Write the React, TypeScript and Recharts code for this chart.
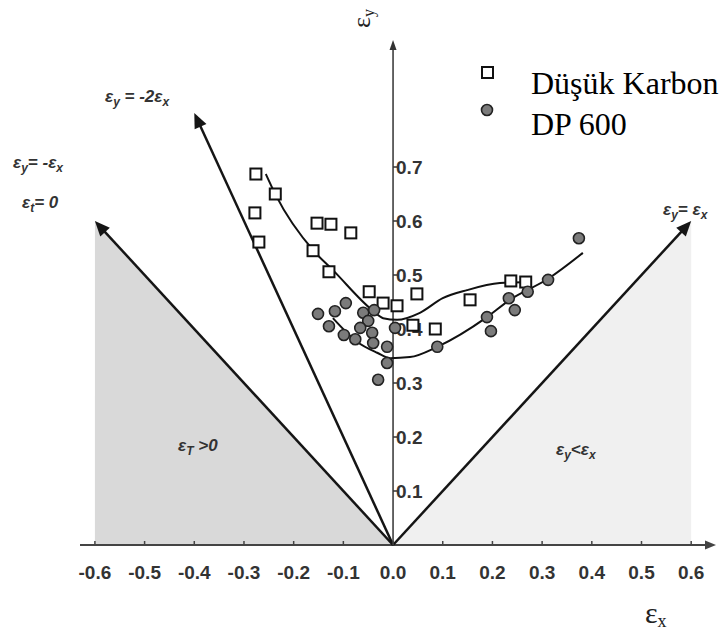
import React from "react";
import {
  Area,
  ComposedChart,
  Line,
  ReferenceLine,
  Scatter,
  XAxis,
  YAxis,
} from "recharts";

const xTicks = [-0.6, -0.5, -0.4, -0.3, -0.2, -0.1, 0, 0.1, 0.2, 0.3, 0.4, 0.5, 0.6];
const yTicks = [0.1, 0.2, 0.3, 0.4, 0.5, 0.6, 0.7];

// Düşük Karbon (open squares)
const lowCarbon = [
  { x: -0.276, y: 0.687 },
  { x: -0.237, y: 0.65 },
  { x: -0.278, y: 0.615 },
  { x: -0.27, y: 0.561 },
  { x: -0.153, y: 0.596 },
  { x: -0.125, y: 0.594 },
  { x: -0.085, y: 0.578 },
  { x: -0.161, y: 0.545 },
  { x: -0.129, y: 0.506 },
  { x: -0.048, y: 0.469 },
  { x: -0.02, y: 0.448 },
  { x: 0.008, y: 0.443 },
  { x: 0.048, y: 0.465 },
  { x: 0.04, y: 0.407 },
  { x: 0.085, y: 0.4 },
  { x: 0.155, y: 0.454 },
  { x: 0.237, y: 0.489 },
  { x: 0.267, y: 0.487 },
];

// DP 600 (grey circles)
const dp600 = [
  { x: -0.151, y: 0.428 },
  { x: -0.129, y: 0.405 },
  { x: -0.117, y: 0.433 },
  { x: -0.095, y: 0.448 },
  { x: -0.099, y: 0.389 },
  { x: -0.076, y: 0.381 },
  { x: -0.06, y: 0.43 },
  { x: -0.05, y: 0.415 },
  { x: -0.066, y: 0.402 },
  { x: -0.042, y: 0.393 },
  { x: -0.04, y: 0.374 },
  { x: -0.038, y: 0.435 },
  { x: -0.012, y: 0.367 },
  { x: -0.012, y: 0.337 },
  { x: -0.03, y: 0.306 },
  { x: 0.004, y: 0.402 },
  { x: 0.089, y: 0.367 },
  { x: 0.189, y: 0.422 },
  { x: 0.197, y: 0.396 },
  { x: 0.233, y: 0.457 },
  { x: 0.245, y: 0.435 },
  { x: 0.271, y: 0.469 },
  { x: 0.312, y: 0.491 },
  { x: 0.374, y: 0.568 },
];

// fitted curves
const lowCarbonFit = [
  { x: -0.256, y: 0.687 },
  { x: -0.236, y: 0.648 },
  { x: -0.159, y: 0.544 },
  { x: -0.121, y: 0.509 },
  { x: -0.042, y: 0.435 },
  { x: -0.02, y: 0.42 },
  { x: 0.008, y: 0.417 },
  { x: 0.054, y: 0.43 },
  { x: 0.1, y: 0.457 },
  { x: 0.149, y: 0.472 },
  { x: 0.215, y: 0.485 },
  { x: 0.276, y: 0.487 },
];

const dp600Fit = [
  { x: -0.121, y: 0.42 },
  { x: -0.072, y: 0.376 },
  { x: -0.032, y: 0.356 },
  { x: -0.006, y: 0.346 },
  { x: 0.034, y: 0.348 },
  { x: 0.089, y: 0.367 },
  { x: 0.189, y: 0.422 },
  { x: 0.235, y: 0.454 },
  { x: 0.312, y: 0.493 },
  { x: 0.382, y: 0.541 },
];

const leftRegion = [
  { x: -0.6, y: 0.6 },
  { x: 0, y: 0 },
];
const rightRegion = [
  { x: 0, y: 0 },
  { x: 0.6, y: 0.6 },
];

// strain path lines (from origin to arrow tip)
const pathMinus2 = [{ x: 0, y: 0 }, { x: -0.4, y: 0.8 }];
const pathMinus1 = [{ x: 0, y: 0 }, { x: -0.6, y: 0.6 }];
const pathPlus1 = [{ x: 0, y: 0 }, { x: 0.6, y: 0.6 }];
const xAxisLine = [{ x: -0.63, y: 0 }, { x: 0.65, y: 0 }];
const yAxisLine = [{ x: 0, y: 0 }, { x: 0, y: 0.935 }];

const sans = "'Liberation Sans', Arial, sans-serif";
const serif = "'Liberation Serif', 'Times New Roman', serif";

const arrowShape = (color: string, sw: number, head: number, half: number) => (p: any) => {
  const { x1, y1, x2, y2 } = p;
  const a = Math.atan2(y2 - y1, x2 - x1);
  const bx = x2 - head * Math.cos(a);
  const by = y2 - head * Math.sin(a);
  const nx = -Math.sin(a) * half;
  const ny = Math.cos(a) * half;
  return (
    <g>
      <line x1={x1} y1={y1} x2={bx + Math.cos(a) * 2} y2={by + Math.sin(a) * 2} stroke={color} strokeWidth={sw} />
      <polygon points={`${x2},${y2} ${bx + nx},${by + ny} ${bx - nx},${by - ny}`} fill={color} />
    </g>
  );
};

const XTick = (props: any) => {
  const { x, y, payload } = props;
  return (
    <g>
      <line x1={x} y1={y} x2={x} y2={y - 4} stroke="#444" strokeWidth={1.5} />
      <text x={x} y={y + 34} textAnchor="middle" fontFamily={sans} fontWeight="bold" fontSize={19} fill="#333">
        {payload.value.toFixed(1)}
      </text>
    </g>
  );
};

const yTickShape = (t: number) => (p: any) => (
  <g>
    <line x1={p.x1} y1={p.y1} x2={p.x1 + 4} y2={p.y1} stroke="#333" strokeWidth={1.5} />
    <text x={p.x1 + 3} y={p.y1 + 7} fontFamily={sans} fontWeight="bold" fontSize={19} fill="#333">
      {t.toFixed(1)}
    </text>
  </g>
);

const squareShape = (p: any) => (
  <rect x={p.cx - 5.5} y={p.cy - 5.5} width={11} height={11} fill="#fff" stroke="#111" strokeWidth={2} />
);
const circleShape = (p: any) => (
  <circle cx={p.cx} cy={p.cy} r={5.5} fill="#7b7b7b" stroke="#222" strokeWidth={1.6} />
);

const annot = { fontFamily: sans, fontStyle: "italic", fontWeight: "bold", fontSize: 17, fill: "#333" } as const;
const sub = 12;

export default function App() {
  return (
    <div style={{ position: "absolute", left: 0, top: 0, width: 723, height: 637, background: "#fff" }}>
      <ComposedChart width={723} height={637} margin={{ top: 5, right: 2, left: 80, bottom: 52 }}>
        <XAxis
          type="number"
          dataKey="x"
          domain={[-0.63, 0.66]}
          ticks={xTicks}
          interval={0}
          allowDataOverflow
          axisLine={false}
          tickLine={false}
          tickSize={0}
          tickMargin={0}
          height={40}
          tick={<XTick />}
        />
        <YAxis type="number" dataKey="y" domain={[0, 1]} hide allowDataOverflow />
        <Area data={leftRegion} dataKey="y" type="linear" stroke="none" fill="#d9d9d9" fillOpacity={1} dot={false} activeDot={false} isAnimationActive={false} />
        <Area data={rightRegion} dataKey="y" type="linear" stroke="none" fill="#f0f0f0" fillOpacity={1} dot={false} activeDot={false} isAnimationActive={false} />
        <ReferenceLine segment={xAxisLine} ifOverflow="visible" shape={arrowShape("#444", 2, 11, 4.5)} />
        <ReferenceLine segment={yAxisLine} ifOverflow="visible" shape={arrowShape("#333", 1.5, 10, 3.5)} />
        <ReferenceLine segment={pathMinus2} ifOverflow="visible" shape={arrowShape("#151515", 2.5, 15, 6.5)} />
        <ReferenceLine segment={pathMinus1} ifOverflow="visible" shape={arrowShape("#151515", 2.5, 15, 6.5)} />
        <ReferenceLine segment={pathPlus1} ifOverflow="visible" shape={arrowShape("#151515", 2.5, 15, 6.5)} />
        {yTicks.map((t) => (
          <ReferenceLine key={t} segment={[{ x: 0, y: t }, { x: 0.01, y: t }]} ifOverflow="visible" shape={yTickShape(t)} />
        ))}
        <Line data={lowCarbonFit} dataKey="y" type="monotone" stroke="#111" strokeWidth={2} dot={false} activeDot={false} isAnimationActive={false} />
        <Line data={dp600Fit} dataKey="y" type="monotone" stroke="#111" strokeWidth={2} dot={false} activeDot={false} isAnimationActive={false} />
        <Scatter data={lowCarbon} shape={squareShape} isAnimationActive={false} />
        <Scatter data={dp600} shape={circleShape} isAnimationActive={false} />
      </ComposedChart>
      <svg width={723} height={637} style={{ position: "absolute", left: 0, top: 0, pointerEvents: "none" }}>
        {/* legend */}
        <rect x={482} y={67} width={11} height={11} fill="#fff" stroke="#111" strokeWidth={2} />
        <circle cx={487} cy={110} r={5.5} fill="#7b7b7b" stroke="#222" strokeWidth={1.6} />
        <text x={531} y={94} fontFamily={serif} fontSize={32} fill="#000">Düşük Karbon</text>
        <text x={531} y={135} fontFamily={serif} fontSize={32} fill="#000">DP 600</text>

        {/* axis titles */}
        <text x={645} y={623} fontFamily={serif} fontSize={30} fill="#222">
          ε<tspan dy={4} fontSize={18}>x</tspan>
        </text>
        <text transform="translate(370, 28) rotate(-90)" fontFamily={serif} fontSize={26} fill="#222">
          ε<tspan dy={4} fontSize={16}>y</tspan>
        </text>

        {/* strain path labels */}
        <text x={105} y={102} {...annot}>
          ε<tspan dy={4} fontSize={sub}>y</tspan><tspan dy={-4}> = -2ε</tspan><tspan dy={4} fontSize={sub}>x</tspan>
        </text>
        <text x={13} y={168} {...annot}>
          ε<tspan dy={4} fontSize={sub}>y</tspan><tspan dy={-4}>= -ε</tspan><tspan dy={4} fontSize={sub}>x</tspan>
        </text>
        <text x={22} y={208} {...annot}>
          ε<tspan dy={4} fontSize={sub}>t</tspan><tspan dy={-4}>= 0</tspan>
        </text>
        <text x={663} y={215} {...annot}>
          ε<tspan dy={4} fontSize={sub}>y</tspan><tspan dy={-4}>= ε</tspan><tspan dy={4} fontSize={sub}>x</tspan>
        </text>
        <text x={178} y={451} {...annot}>
          ε<tspan dy={4} fontSize={sub}>T</tspan><tspan dy={-4}> &gt;0</tspan>
        </text>
        <text x={556} y={455} {...annot}>
          ε<tspan dy={4} fontSize={sub}>y</tspan><tspan dy={-4}>&lt;ε</tspan><tspan dy={4} fontSize={sub}>x</tspan>
        </text>
      </svg>
    </div>
  );
}
